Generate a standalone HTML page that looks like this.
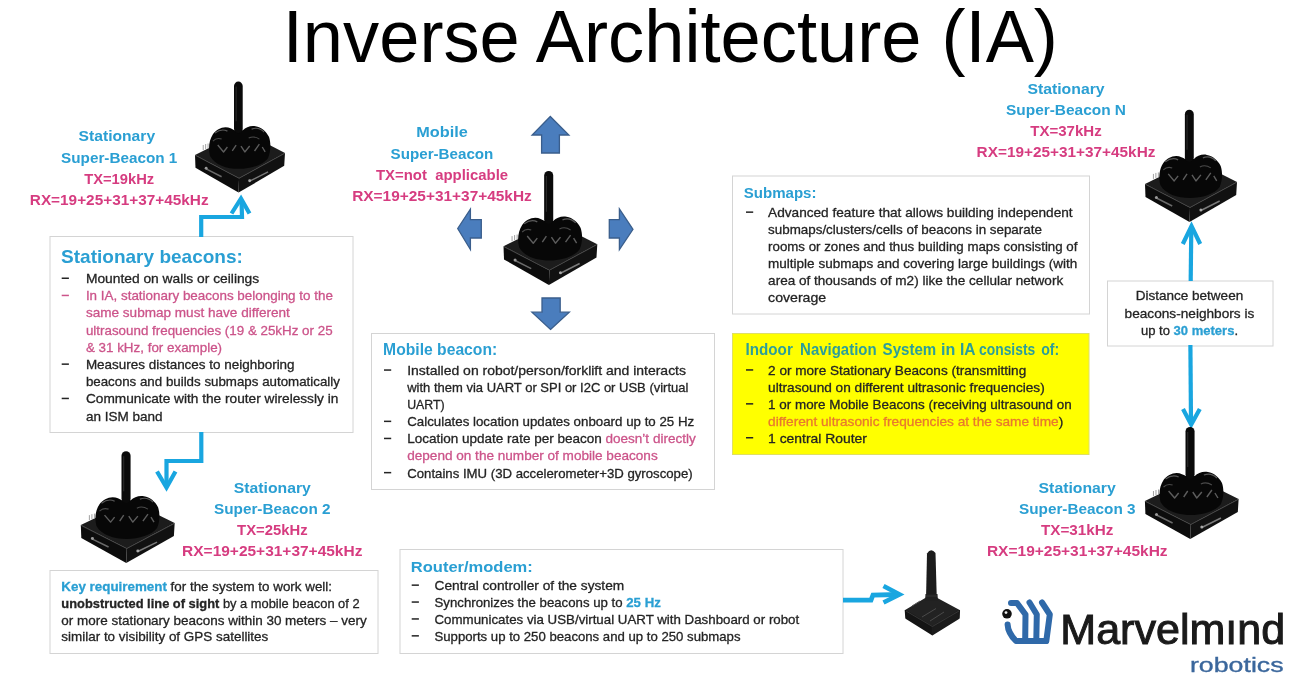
<!DOCTYPE html>
<html><head><meta charset="utf-8"><style>
html,body{margin:0;padding:0;background:#fff;width:1300px;height:693px;overflow:hidden}
svg{display:block;will-change:transform}
text{font-family:"Liberation Sans",sans-serif;white-space:pre}
</style></head><body>
<svg width="1300" height="693" viewBox="0 0 1300 693">

<rect width="1300" height="693" fill="#fff"/>
<text x="282.8" y="62.3" font-size="74" fill="#000" textLength="775.1" lengthAdjust="spacingAndGlyphs">Inverse Architecture (IA)</text>
<text x="78.6" y="141.2" font-size="15" font-weight="bold" fill="#2a9fd3" textLength="76.5" lengthAdjust="spacingAndGlyphs">Stationary</text>
<text x="61.1" y="162.5" font-size="15" font-weight="bold" fill="#2a9fd3" textLength="116.2" lengthAdjust="spacingAndGlyphs">Super-Beacon 1</text>
<text x="84.2" y="183.8" font-size="15" font-weight="bold" fill="#d63c80" textLength="70.0" lengthAdjust="spacingAndGlyphs">TX=19kHz</text>
<text x="29.8" y="205.1" font-size="15" font-weight="bold" fill="#d63c80" textLength="178.8" lengthAdjust="spacingAndGlyphs">RX=19+25+31+37+45kHz</text>
<text x="416.3" y="137.4" font-size="15" font-weight="bold" fill="#2a9fd3" textLength="51.5" lengthAdjust="spacingAndGlyphs">Mobile</text>
<text x="390.6" y="158.7" font-size="15" font-weight="bold" fill="#2a9fd3" textLength="102.8" lengthAdjust="spacingAndGlyphs">Super-Beacon</text>
<text x="376.0" y="180.0" font-size="15" font-weight="bold" fill="#d63c80" textLength="132.1" lengthAdjust="spacingAndGlyphs">TX=not  applicable</text>
<text x="352.2" y="201.3" font-size="15" font-weight="bold" fill="#d63c80" textLength="179.6" lengthAdjust="spacingAndGlyphs">RX=19+25+31+37+45kHz</text>
<text x="1027.4" y="93.8" font-size="15" font-weight="bold" fill="#2a9fd3" textLength="77.2" lengthAdjust="spacingAndGlyphs">Stationary</text>
<text x="1006.0" y="115.0" font-size="15" font-weight="bold" fill="#2a9fd3" textLength="120.0" lengthAdjust="spacingAndGlyphs">Super-Beacon N</text>
<text x="1030.2" y="136.2" font-size="15" font-weight="bold" fill="#d63c80" textLength="71.5" lengthAdjust="spacingAndGlyphs">TX=37kHz</text>
<text x="976.6" y="157.4" font-size="15" font-weight="bold" fill="#d63c80" textLength="178.8" lengthAdjust="spacingAndGlyphs">RX=19+25+31+37+45kHz</text>
<text x="233.8" y="492.9" font-size="15" font-weight="bold" fill="#2a9fd3" textLength="77.0" lengthAdjust="spacingAndGlyphs">Stationary</text>
<text x="214.0" y="513.9" font-size="15" font-weight="bold" fill="#2a9fd3" textLength="116.5" lengthAdjust="spacingAndGlyphs">Super-Beacon 2</text>
<text x="237.1" y="534.9" font-size="15" font-weight="bold" fill="#d63c80" textLength="70.5" lengthAdjust="spacingAndGlyphs">TX=25kHz</text>
<text x="182.1" y="555.9" font-size="15" font-weight="bold" fill="#d63c80" textLength="180.3" lengthAdjust="spacingAndGlyphs">RX=19+25+31+37+45kHz</text>
<text x="1038.6" y="492.9" font-size="15" font-weight="bold" fill="#2a9fd3" textLength="77.2" lengthAdjust="spacingAndGlyphs">Stationary</text>
<text x="1019.0" y="513.8" font-size="15" font-weight="bold" fill="#2a9fd3" textLength="116.5" lengthAdjust="spacingAndGlyphs">Super-Beacon 3</text>
<text x="1040.9" y="534.7" font-size="15" font-weight="bold" fill="#d63c80" textLength="72.5" lengthAdjust="spacingAndGlyphs">TX=31kHz</text>
<text x="986.9" y="555.6" font-size="15" font-weight="bold" fill="#d63c80" textLength="180.7" lengthAdjust="spacingAndGlyphs">RX=19+25+31+37+45kHz</text>
<rect x="50.0" y="236.5" width="303.0" height="196.0" fill="#fff" stroke="#d4d4d4" stroke-width="1"/>
<text x="61.1" y="263.4" font-size="19" font-weight="bold" fill="#2a9fd3" textLength="181.8" lengthAdjust="spacingAndGlyphs">Stationary beacons:</text>
<rect x="61.7" y="277.5" width="7.2" height="1.5" fill="#242424"/>
<text x="85.9" y="283.1" font-size="13.4" fill="#242424" stroke="#242424" stroke-width="0.3" textLength="173.3" lengthAdjust="spacingAndGlyphs">Mounted on walls or ceilings</text>
<rect x="61.7" y="294.7" width="7.2" height="1.5" fill="#cc548a"/>
<text x="85.9" y="300.3" font-size="13.4" fill="#cc548a" stroke="#cc548a" stroke-width="0.3" textLength="247.0" lengthAdjust="spacingAndGlyphs">In IA, stationary beacons belonging to the</text>
<text x="85.9" y="317.4" font-size="13.4" fill="#cc548a" stroke="#cc548a" stroke-width="0.3" textLength="204.0" lengthAdjust="spacingAndGlyphs">same submap must have different</text>
<text x="85.9" y="334.6" font-size="13.4" fill="#cc548a" stroke="#cc548a" stroke-width="0.3" textLength="246.7" lengthAdjust="spacingAndGlyphs">ultrasound frequencies (19 &amp; 25kHz or 25</text>
<text x="85.9" y="351.8" font-size="13.4" fill="#cc548a" stroke="#cc548a" stroke-width="0.3" textLength="136.2" lengthAdjust="spacingAndGlyphs">&amp; 31 kHz, for example)</text>
<rect x="61.7" y="363.4" width="7.2" height="1.5" fill="#242424"/>
<text x="85.9" y="369.0" font-size="13.4" fill="#242424" stroke="#242424" stroke-width="0.3" textLength="208.7" lengthAdjust="spacingAndGlyphs">Measures distances to neighboring</text>
<text x="85.9" y="386.1" font-size="13.4" fill="#242424" stroke="#242424" stroke-width="0.3" textLength="254.0" lengthAdjust="spacingAndGlyphs">beacons and builds submaps automatically</text>
<rect x="61.7" y="397.7" width="7.2" height="1.5" fill="#242424"/>
<text x="85.9" y="403.3" font-size="13.4" fill="#242424" stroke="#242424" stroke-width="0.3" textLength="252.4" lengthAdjust="spacingAndGlyphs">Communicate with the router wirelessly in</text>
<text x="85.9" y="420.5" font-size="13.4" fill="#242424" stroke="#242424" stroke-width="0.3" textLength="76.6" lengthAdjust="spacingAndGlyphs">an ISM band</text>
<rect x="371.5" y="333.5" width="343.0" height="156.0" fill="#fff" stroke="#d4d4d4" stroke-width="1"/>
<text x="383.1" y="355.3" font-size="15.8" font-weight="bold" fill="#2a9fd3" textLength="114.1" lengthAdjust="spacingAndGlyphs">Mobile beacon:</text>
<rect x="384.0" y="369.3" width="7.2" height="1.5" fill="#242424"/>
<text x="407.2" y="374.9" font-size="13.4" fill="#242424" stroke="#242424" stroke-width="0.3" textLength="278.8" lengthAdjust="spacingAndGlyphs">Installed on robot/person/forklift and interacts</text>
<text x="407.2" y="392.0" font-size="13.4" fill="#242424" stroke="#242424" stroke-width="0.3" textLength="281.2" lengthAdjust="spacingAndGlyphs">with them via UART or SPI or I2C or USB (virtual</text>
<text x="407.2" y="409.1" font-size="13.4" fill="#242424" stroke="#242424" stroke-width="0.3" textLength="37.5" lengthAdjust="spacingAndGlyphs">UART)</text>
<rect x="384.0" y="420.6" width="7.2" height="1.5" fill="#242424"/>
<text x="407.2" y="426.2" font-size="13.4" fill="#242424" stroke="#242424" stroke-width="0.3" textLength="287.0" lengthAdjust="spacingAndGlyphs">Calculates location updates onboard up to 25 Hz</text>
<rect x="384.0" y="437.7" width="7.2" height="1.5" fill="#242424"/>
<text x="407.2" y="443.3" font-size="13.4" fill="#242424" stroke="#242424" stroke-width="0.3" textLength="288.5" lengthAdjust="spacingAndGlyphs">Location update rate per beacon <tspan fill="#cc548a" stroke="#cc548a">doesn’t directly</tspan></text>
<text x="407.2" y="460.4" font-size="13.4" fill="#cc548a" stroke="#cc548a" stroke-width="0.3" textLength="250.5" lengthAdjust="spacingAndGlyphs">depend on the number of mobile beacons</text>
<rect x="384.0" y="471.9" width="7.2" height="1.5" fill="#242424"/>
<text x="407.2" y="477.5" font-size="13.4" fill="#242424" stroke="#242424" stroke-width="0.3" textLength="285.5" lengthAdjust="spacingAndGlyphs">Contains IMU (3D accelerometer+3D gyroscope)</text>
<rect x="732.5" y="176.0" width="357.0" height="138.0" fill="#fff" stroke="#d4d4d4" stroke-width="1"/>
<text x="743.7" y="198.0" font-size="15.5" font-weight="bold" fill="#2a9fd3" textLength="72.8" lengthAdjust="spacingAndGlyphs">Submaps:</text>
<rect x="746.0" y="211.4" width="7.2" height="1.5" fill="#242424"/>
<text x="768.1" y="217.0" font-size="13.4" fill="#242424" stroke="#242424" stroke-width="0.3" textLength="304.5" lengthAdjust="spacingAndGlyphs">Advanced feature that allows building independent</text>
<text x="768.1" y="234.1" font-size="13.4" fill="#242424" stroke="#242424" stroke-width="0.3" textLength="273.8" lengthAdjust="spacingAndGlyphs">submaps/clusters/cells of beacons in separate</text>
<text x="768.1" y="251.1" font-size="13.4" fill="#242424" stroke="#242424" stroke-width="0.3" textLength="309.3" lengthAdjust="spacingAndGlyphs">rooms or zones and thus building maps consisting of</text>
<text x="768.1" y="268.2" font-size="13.4" fill="#242424" stroke="#242424" stroke-width="0.3" textLength="309.3" lengthAdjust="spacingAndGlyphs">multiple submaps and covering large buildings (with</text>
<text x="768.1" y="285.2" font-size="13.4" fill="#242424" stroke="#242424" stroke-width="0.3" textLength="295.1" lengthAdjust="spacingAndGlyphs">area of thousands of m2) like the cellular network</text>
<text x="768.1" y="302.3" font-size="13.4" fill="#242424" stroke="#242424" stroke-width="0.3" textLength="58.1" lengthAdjust="spacingAndGlyphs">coverage</text>
<rect x="732.5" y="333.5" width="356.5" height="121" fill="#ffff00" stroke="#dede66" stroke-width="1"/>
<text x="745.5" y="355.2" font-size="15.8" font-weight="bold" fill="#2c9e9a" textLength="47.3" lengthAdjust="spacingAndGlyphs">Indoor</text>
<text x="800.1" y="355.2" font-size="15.8" font-weight="bold" fill="#2c9e9a" textLength="76.5" lengthAdjust="spacingAndGlyphs">Navigation</text>
<text x="882.6" y="355.2" font-size="15.8" font-weight="bold" fill="#2c9e9a" textLength="53.6" lengthAdjust="spacingAndGlyphs">System</text>
<text x="941.0" y="355.2" font-size="15.8" font-weight="bold" fill="#2c9e9a" textLength="14.3" lengthAdjust="spacingAndGlyphs">in</text>
<text x="960.0" y="355.2" font-size="15.8" font-weight="bold" fill="#2c9e9a" textLength="15.6" lengthAdjust="spacingAndGlyphs">IA</text>
<text x="979.0" y="355.2" font-size="15.8" font-weight="bold" fill="#2c9e9a" textLength="56.2" lengthAdjust="spacingAndGlyphs">consists</text>
<text x="1041.2" y="355.2" font-size="15.8" font-weight="bold" fill="#2c9e9a" textLength="18.1" lengthAdjust="spacingAndGlyphs">of:</text>
<rect x="746.0" y="369.2" width="7.2" height="1.5" fill="#242424"/>
<text x="768.1" y="374.8" font-size="13.4" fill="#242424" stroke="#242424" stroke-width="0.3" textLength="258.1" lengthAdjust="spacingAndGlyphs">2 or more Stationary Beacons (transmitting</text>
<text x="768.1" y="391.8" font-size="13.4" fill="#242424" stroke="#242424" stroke-width="0.3" textLength="276.6" lengthAdjust="spacingAndGlyphs">ultrasound on different ultrasonic frequencies)</text>
<rect x="746.0" y="403.1" width="7.2" height="1.5" fill="#242424"/>
<text x="768.1" y="408.7" font-size="13.4" fill="#242424" stroke="#242424" stroke-width="0.3" textLength="303.6" lengthAdjust="spacingAndGlyphs">1 or more Mobile Beacons (receiving ultrasound on</text>
<text x="768.1" y="425.6" font-size="13.4" fill="#242424" stroke="#242424" stroke-width="0.3" textLength="295.1" lengthAdjust="spacingAndGlyphs"><tspan fill="#e8782e" stroke="#e8782e">different ultrasonic frequencies at the same time</tspan>)</text>
<rect x="746.0" y="437.0" width="7.2" height="1.5" fill="#242424"/>
<text x="768.1" y="442.6" font-size="13.4" fill="#242424" stroke="#242424" stroke-width="0.3" textLength="98.8" lengthAdjust="spacingAndGlyphs">1 central Router</text>
<rect x="1107.5" y="281.0" width="165.5" height="65.0" fill="#fff" stroke="#d4d4d4" stroke-width="1"/>
<text x="1135.7" y="300.3" font-size="13.4" fill="#242424" stroke="#242424" stroke-width="0.3" textLength="107.5" lengthAdjust="spacingAndGlyphs">Distance between</text>
<text x="1124.6" y="317.6" font-size="13.4" fill="#242424" stroke="#242424" stroke-width="0.3" textLength="129.7" lengthAdjust="spacingAndGlyphs">beacons-neighbors is</text>
<text x="1140.9" y="334.9" font-size="13.4" fill="#242424" stroke="#242424" stroke-width="0.3" textLength="97.2" lengthAdjust="spacingAndGlyphs">up to <tspan fill="#2a9fd3" stroke="#2a9fd3" font-weight="bold">30 meters</tspan>.</text>
<rect x="50.0" y="570.5" width="328.0" height="83.0" fill="#fff" stroke="#d4d4d4" stroke-width="1"/>
<text x="61.3" y="591.4" font-size="13.4" fill="#242424" stroke="#242424" stroke-width="0.3" textLength="270.7" lengthAdjust="spacingAndGlyphs"><tspan fill="#2a9fd3" stroke="#2a9fd3" font-weight="bold">Key requirement</tspan> for the system to work well:</text>
<text x="61.3" y="608.4" font-size="13.4" fill="#242424" stroke="#242424" stroke-width="0.3" textLength="298.3" lengthAdjust="spacingAndGlyphs"><tspan font-weight="bold">unobstructed line of sight</tspan> by a mobile beacon of 2</text>
<text x="61.3" y="625.0" font-size="13.4" fill="#242424" stroke="#242424" stroke-width="0.3" textLength="305.4" lengthAdjust="spacingAndGlyphs">or more stationary beacons within 30 meters – very</text>
<text x="61.3" y="640.7" font-size="13.4" fill="#242424" stroke="#242424" stroke-width="0.3" textLength="207.0" lengthAdjust="spacingAndGlyphs">similar to visibility of GPS satellites</text>
<rect x="400.0" y="549.5" width="443.0" height="104.0" fill="#fff" stroke="#d4d4d4" stroke-width="1"/>
<text x="410.8" y="572.3" font-size="15.5" font-weight="bold" fill="#2a9fd3" textLength="122.0" lengthAdjust="spacingAndGlyphs">Router/modem:</text>
<rect x="411.7" y="584.4" width="7.2" height="1.5" fill="#242424"/>
<text x="434.5" y="590.0" font-size="13.4" fill="#242424" stroke="#242424" stroke-width="0.3" textLength="189.7" lengthAdjust="spacingAndGlyphs">Central controller of the system</text>
<rect x="411.7" y="601.3" width="7.2" height="1.5" fill="#242424"/>
<text x="434.5" y="606.9" font-size="13.4" fill="#242424" stroke="#242424" stroke-width="0.3" textLength="226.3" lengthAdjust="spacingAndGlyphs">Synchronizes the beacons up to <tspan fill="#2a9fd3" stroke="#2a9fd3" font-weight="bold">25 Hz</tspan></text>
<rect x="411.7" y="618.2" width="7.2" height="1.5" fill="#242424"/>
<text x="434.5" y="623.8" font-size="13.4" fill="#242424" stroke="#242424" stroke-width="0.3" textLength="364.7" lengthAdjust="spacingAndGlyphs">Communicates via USB/virtual UART with Dashboard or robot</text>
<rect x="411.7" y="635.1" width="7.2" height="1.5" fill="#242424"/>
<text x="434.5" y="640.7" font-size="13.4" fill="#242424" stroke="#242424" stroke-width="0.3" textLength="306.0" lengthAdjust="spacingAndGlyphs">Supports up to 250 beacons and up to 250 submaps</text>
<path d="M201.2 237 L201.2 217 L242 217 L241.5 200" fill="none" stroke="#19a6e0" stroke-width="4.2" stroke-linejoin="miter" stroke-linecap="butt"/>
<path d="M231.5 213.5 L241 198.5 L249.5 213.5" fill="none" stroke="#19a6e0" stroke-width="4.2" stroke-linejoin="miter" stroke-linecap="butt"/>
<path d="M201.3 432 L201.3 461 L166.5 461 L166.5 486" fill="none" stroke="#19a6e0" stroke-width="4.2" stroke-linejoin="miter" stroke-linecap="butt"/>
<path d="M157 471.5 L166.5 487.5 L175.5 471.5" fill="none" stroke="#19a6e0" stroke-width="4.2" stroke-linejoin="miter" stroke-linecap="butt"/>
<path d="M1190.7 281 L1191.3 227" fill="none" stroke="#19a6e0" stroke-width="4.2" stroke-linejoin="miter" stroke-linecap="butt"/>
<path d="M1182.8 244 L1191.5 226 L1200.2 244" fill="none" stroke="#19a6e0" stroke-width="4.2" stroke-linejoin="miter" stroke-linecap="butt"/>
<path d="M1190.4 345 L1191 423" fill="none" stroke="#19a6e0" stroke-width="4.2" stroke-linejoin="miter" stroke-linecap="butt"/>
<path d="M1183 409 L1191.2 424.5 L1199.8 409" fill="none" stroke="#19a6e0" stroke-width="4.2" stroke-linejoin="miter" stroke-linecap="butt"/>
<path d="M843 600.2 L871 600.2 L873 595 L899 594.5" fill="none" stroke="#19a6e0" stroke-width="4.8" stroke-linejoin="miter" stroke-linecap="butt"/>
<path d="M883.5 586 L899.5 594.5 L883.5 602.5" fill="none" stroke="#19a6e0" stroke-width="4.6" stroke-linejoin="miter" stroke-linecap="butt"/>
<polygon points="550.3,116.5 568.9,135.0 559.4,135.0 559.4,153.0 541.6,153.0 541.6,135.0 532.1,135.0" fill="#4a7dbd" stroke="#3a5e8c" stroke-width="1.3" stroke-linejoin="miter"/>
<polygon points="550.5,329.4 569.3,312.2 560.2,312.2 560.2,298.0 542.0,298.0 542.0,312.2 531.9,312.2" fill="#4a7dbd" stroke="#3a5e8c" stroke-width="1.3" stroke-linejoin="miter"/>
<polygon points="457.7,228.5 470.4,209.1 470.4,219.6 481.3,219.6 481.3,238.0 470.4,238.0 470.4,249.5" fill="#4a7dbd" stroke="#3a5e8c" stroke-width="1.3" stroke-linejoin="miter"/>
<polygon points="633.0,229.3 619.4,209.0 619.4,219.6 609.3,219.6 609.3,238.0 619.4,238.0 619.4,249.5" fill="#4a7dbd" stroke="#3a5e8c" stroke-width="1.3" stroke-linejoin="miter"/>
<g transform="translate(194.52,81.60) scale(0.9677,0.9911)">
 <path d="M0.5 74 L46 97.5 L93.5 72 L49.5 50 Z" fill="#1c1c1c"/>
 <path d="M0.5 74 L46 97.5 L45.5 112 L1 87 Z" fill="#0c0c0c"/>
 <path d="M46 97.5 L93.5 72 L92.7 85 L45.5 112 Z" fill="#111"/>
 <path d="M1 74.5 L46 97.5 L93 72.5" fill="none" stroke="#444" stroke-width="0.9"/>
 <path d="M16 75 C14 67 15 59 19 53 C22 49 27 46 32 46 C36 46 39 48 41 49 L50 49 C53 46 58 44 63 45 C69 46 74 50 77 56 C79 62 79 70 76 77 C71 84 58 88 46 88 C33 88 21 84 16 75 Z" fill="#070707"/>
 <path d="M21 52 C25 49 30 48 34 50" stroke="#5a5a5a" stroke-width="1.2" fill="none"/>
 <path d="M59 48 C64 46 69 48 72 51" stroke="#5a5a5a" stroke-width="1.2" fill="none"/>
 <path d="M24 64 L30 71 L34 66 M39 70 L43 64 M48 65 L52 71 L57 65 M62 70 L67 63 M70 66 L73 71" stroke="#5c5c5c" stroke-width="1.4" fill="none" stroke-linejoin="round"/>
 <path d="M19 60 C22 57 25 57 28 58 M56 57 C60 55 64 56 67 58" stroke="#4a4a4a" stroke-width="1.1" fill="none"/>
 <path d="M9 64 L9 69 M11.5 63 L11.5 68 M14 62.5 L14 67.5" stroke="#8a8a8a" stroke-width="0.8"/>
 <rect x="40.8" y="0" width="9" height="52" rx="4.5" fill="#0a0a0a"/>
 <path d="M43 5 L43 40" stroke="#2e2e2e" stroke-width="1"/>
 <path d="M12 88 L28 96" stroke="#6a6a6a" stroke-width="1.5"/>
 <path d="M58 100 L76 91" stroke="#7a7a7a" stroke-width="1.5"/>
 <circle cx="12" cy="87.5" r="1.5" fill="#999"/><circle cx="57" cy="100" r="1.5" fill="#aaa"/>
</g>
<g transform="translate(503.00,171.00) scale(1.0086,1.0170)">
 <path d="M0.5 74 L46 97.5 L93.5 72 L49.5 50 Z" fill="#1c1c1c"/>
 <path d="M0.5 74 L46 97.5 L45.5 112 L1 87 Z" fill="#0c0c0c"/>
 <path d="M46 97.5 L93.5 72 L92.7 85 L45.5 112 Z" fill="#111"/>
 <path d="M1 74.5 L46 97.5 L93 72.5" fill="none" stroke="#444" stroke-width="0.9"/>
 <path d="M16 75 C14 67 15 59 19 53 C22 49 27 46 32 46 C36 46 39 48 41 49 L50 49 C53 46 58 44 63 45 C69 46 74 50 77 56 C79 62 79 70 76 77 C71 84 58 88 46 88 C33 88 21 84 16 75 Z" fill="#070707"/>
 <path d="M21 52 C25 49 30 48 34 50" stroke="#5a5a5a" stroke-width="1.2" fill="none"/>
 <path d="M59 48 C64 46 69 48 72 51" stroke="#5a5a5a" stroke-width="1.2" fill="none"/>
 <path d="M24 64 L30 71 L34 66 M39 70 L43 64 M48 65 L52 71 L57 65 M62 70 L67 63 M70 66 L73 71" stroke="#5c5c5c" stroke-width="1.4" fill="none" stroke-linejoin="round"/>
 <path d="M19 60 C22 57 25 57 28 58 M56 57 C60 55 64 56 67 58" stroke="#4a4a4a" stroke-width="1.1" fill="none"/>
 <path d="M9 64 L9 69 M11.5 63 L11.5 68 M14 62.5 L14 67.5" stroke="#8a8a8a" stroke-width="0.8"/>
 <rect x="40.8" y="0" width="9" height="52" rx="4.5" fill="#0a0a0a"/>
 <path d="M43 5 L43 40" stroke="#2e2e2e" stroke-width="1"/>
 <path d="M12 88 L28 96" stroke="#6a6a6a" stroke-width="1.5"/>
 <path d="M58 100 L76 91" stroke="#7a7a7a" stroke-width="1.5"/>
 <circle cx="12" cy="87.5" r="1.5" fill="#999"/><circle cx="57" cy="100" r="1.5" fill="#aaa"/>
</g>
<g transform="translate(80.30,451.30) scale(1.0097,0.9973)">
 <path d="M0.5 74 L46 97.5 L93.5 72 L49.5 50 Z" fill="#1c1c1c"/>
 <path d="M0.5 74 L46 97.5 L45.5 112 L1 87 Z" fill="#0c0c0c"/>
 <path d="M46 97.5 L93.5 72 L92.7 85 L45.5 112 Z" fill="#111"/>
 <path d="M1 74.5 L46 97.5 L93 72.5" fill="none" stroke="#444" stroke-width="0.9"/>
 <path d="M16 75 C14 67 15 59 19 53 C22 49 27 46 32 46 C36 46 39 48 41 49 L50 49 C53 46 58 44 63 45 C69 46 74 50 77 56 C79 62 79 70 76 77 C71 84 58 88 46 88 C33 88 21 84 16 75 Z" fill="#070707"/>
 <path d="M21 52 C25 49 30 48 34 50" stroke="#5a5a5a" stroke-width="1.2" fill="none"/>
 <path d="M59 48 C64 46 69 48 72 51" stroke="#5a5a5a" stroke-width="1.2" fill="none"/>
 <path d="M24 64 L30 71 L34 66 M39 70 L43 64 M48 65 L52 71 L57 65 M62 70 L67 63 M70 66 L73 71" stroke="#5c5c5c" stroke-width="1.4" fill="none" stroke-linejoin="round"/>
 <path d="M19 60 C22 57 25 57 28 58 M56 57 C60 55 64 56 67 58" stroke="#4a4a4a" stroke-width="1.1" fill="none"/>
 <path d="M9 64 L9 69 M11.5 63 L11.5 68 M14 62.5 L14 67.5" stroke="#8a8a8a" stroke-width="0.8"/>
 <rect x="40.8" y="0" width="9" height="52" rx="4.5" fill="#0a0a0a"/>
 <path d="M43 5 L43 40" stroke="#2e2e2e" stroke-width="1"/>
 <path d="M12 88 L28 96" stroke="#6a6a6a" stroke-width="1.5"/>
 <path d="M58 100 L76 91" stroke="#7a7a7a" stroke-width="1.5"/>
 <circle cx="12" cy="87.5" r="1.5" fill="#999"/><circle cx="57" cy="100" r="1.5" fill="#aaa"/>
</g>
<g transform="translate(1144.51,109.80) scale(0.9892,1.0018)">
 <path d="M0.5 74 L46 97.5 L93.5 72 L49.5 50 Z" fill="#1c1c1c"/>
 <path d="M0.5 74 L46 97.5 L45.5 112 L1 87 Z" fill="#0c0c0c"/>
 <path d="M46 97.5 L93.5 72 L92.7 85 L45.5 112 Z" fill="#111"/>
 <path d="M1 74.5 L46 97.5 L93 72.5" fill="none" stroke="#444" stroke-width="0.9"/>
 <path d="M16 75 C14 67 15 59 19 53 C22 49 27 46 32 46 C36 46 39 48 41 49 L50 49 C53 46 58 44 63 45 C69 46 74 50 77 56 C79 62 79 70 76 77 C71 84 58 88 46 88 C33 88 21 84 16 75 Z" fill="#070707"/>
 <path d="M21 52 C25 49 30 48 34 50" stroke="#5a5a5a" stroke-width="1.2" fill="none"/>
 <path d="M59 48 C64 46 69 48 72 51" stroke="#5a5a5a" stroke-width="1.2" fill="none"/>
 <path d="M24 64 L30 71 L34 66 M39 70 L43 64 M48 65 L52 71 L57 65 M62 70 L67 63 M70 66 L73 71" stroke="#5c5c5c" stroke-width="1.4" fill="none" stroke-linejoin="round"/>
 <path d="M19 60 C22 57 25 57 28 58 M56 57 C60 55 64 56 67 58" stroke="#4a4a4a" stroke-width="1.1" fill="none"/>
 <path d="M9 64 L9 69 M11.5 63 L11.5 68 M14 62.5 L14 67.5" stroke="#8a8a8a" stroke-width="0.8"/>
 <rect x="40.8" y="0" width="9" height="52" rx="4.5" fill="#0a0a0a"/>
 <path d="M43 5 L43 40" stroke="#2e2e2e" stroke-width="1"/>
 <path d="M12 88 L28 96" stroke="#6a6a6a" stroke-width="1.5"/>
 <path d="M58 100 L76 91" stroke="#7a7a7a" stroke-width="1.5"/>
 <circle cx="12" cy="87.5" r="1.5" fill="#999"/><circle cx="57" cy="100" r="1.5" fill="#aaa"/>
</g>
<g transform="translate(1144.40,427.00) scale(1.0075,1.0000)">
 <path d="M0.5 74 L46 97.5 L93.5 72 L49.5 50 Z" fill="#1c1c1c"/>
 <path d="M0.5 74 L46 97.5 L45.5 112 L1 87 Z" fill="#0c0c0c"/>
 <path d="M46 97.5 L93.5 72 L92.7 85 L45.5 112 Z" fill="#111"/>
 <path d="M1 74.5 L46 97.5 L93 72.5" fill="none" stroke="#444" stroke-width="0.9"/>
 <path d="M16 75 C14 67 15 59 19 53 C22 49 27 46 32 46 C36 46 39 48 41 49 L50 49 C53 46 58 44 63 45 C69 46 74 50 77 56 C79 62 79 70 76 77 C71 84 58 88 46 88 C33 88 21 84 16 75 Z" fill="#070707"/>
 <path d="M21 52 C25 49 30 48 34 50" stroke="#5a5a5a" stroke-width="1.2" fill="none"/>
 <path d="M59 48 C64 46 69 48 72 51" stroke="#5a5a5a" stroke-width="1.2" fill="none"/>
 <path d="M24 64 L30 71 L34 66 M39 70 L43 64 M48 65 L52 71 L57 65 M62 70 L67 63 M70 66 L73 71" stroke="#5c5c5c" stroke-width="1.4" fill="none" stroke-linejoin="round"/>
 <path d="M19 60 C22 57 25 57 28 58 M56 57 C60 55 64 56 67 58" stroke="#4a4a4a" stroke-width="1.1" fill="none"/>
 <path d="M9 64 L9 69 M11.5 63 L11.5 68 M14 62.5 L14 67.5" stroke="#8a8a8a" stroke-width="0.8"/>
 <rect x="40.8" y="0" width="9" height="52" rx="4.5" fill="#0a0a0a"/>
 <path d="M43 5 L43 40" stroke="#2e2e2e" stroke-width="1"/>
 <path d="M12 88 L28 96" stroke="#6a6a6a" stroke-width="1.5"/>
 <path d="M58 100 L76 91" stroke="#7a7a7a" stroke-width="1.5"/>
 <circle cx="12" cy="87.5" r="1.5" fill="#999"/><circle cx="57" cy="100" r="1.5" fill="#aaa"/>
</g>
<g stroke-linejoin="round">
 <path d="M905.5 610.7 L932.4 627 L959.3 610.7 L931 595.5 Z" fill="#222" stroke="#222" stroke-width="1.5"/>
 <path d="M905.5 610.7 L932.4 627 L932.4 634.5 L906 618 Z" fill="#141414" stroke="#141414" stroke-width="1.5"/>
 <path d="M932.4 627 L959.3 610.7 L959 618 L932.4 634.5 Z" fill="#1b1b1b" stroke="#1b1b1b" stroke-width="1.5"/>
 <path d="M906 611 L932.4 626.5 L959 611" fill="none" stroke="#3c3c3c" stroke-width="0.8"/>
 <path d="M926 599 L927 553.5 Q931 547.5 935.5 553 L936.8 599 Z" fill="#1c1c1c"/>
 <path d="M925.5 594 L937.5 594 L938 601 L925 601 Z" fill="#202020"/>
 <path d="M926 596 L937 596" stroke="#3a3a3a" stroke-width="0.8"/>
 <path d="M922 617 L936 608.5 M930 621 L944 612" stroke="#4a4a4a" stroke-width="1"/>
 <path d="M912 606 L920 601" stroke="#555" stroke-width="1"/>
</g>
<g fill="none" stroke="#2f69a9" stroke-width="6" stroke-linejoin="round" stroke-linecap="round">
<path d="M1011 603 L1017 603 L1025.5 614.5 L1025.2 640"/>
<path d="M1029.5 602.5 L1036.8 614.5 L1036.3 640"/>
<path d="M1042 602.5 L1049.8 614.5 L1046.3 641 L1016 641 Q1008 633 1007.6 624.5"/>
</g>
<circle cx="1007" cy="613.8" r="4.8" fill="#111"/><circle cx="1006" cy="612.6" r="1.4" fill="#eee"/>
<text x="1060.3" y="644.4" font-size="43" fill="#1a1a1a" textLength="224.9" lengthAdjust="spacingAndGlyphs" stroke="#1a1a1a" stroke-width="1.0">Marvelmınd</text>
<text x="1189.9" y="671.8" font-size="21" fill="#3b679c" textLength="93.7" lengthAdjust="spacingAndGlyphs" stroke="#3b679c" stroke-width="0.35">robotics</text>
</svg>
</body></html>
